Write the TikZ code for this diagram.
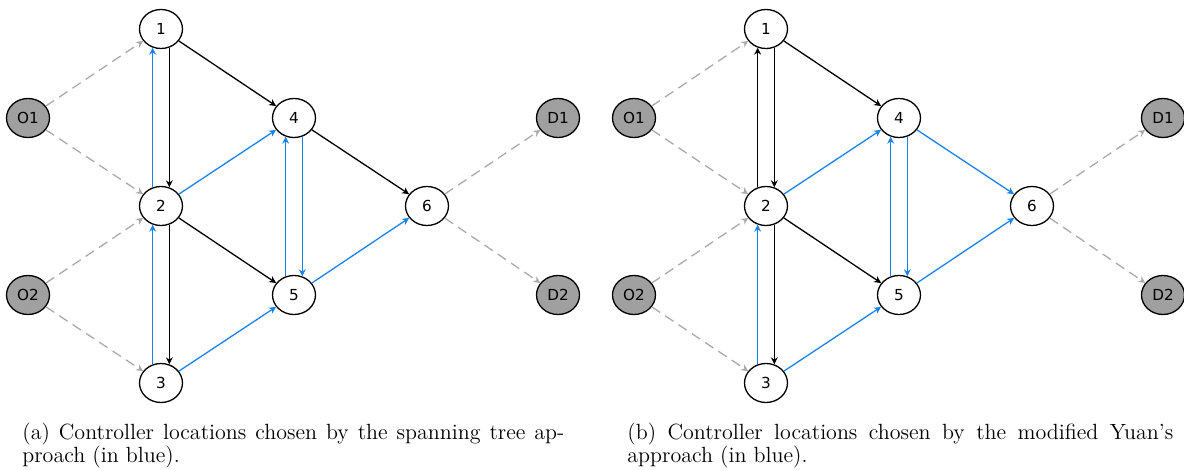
\documentclass[tikz,border=0pt]{standalone}
\usepackage{fontspec}
\newfontfamily\nodefont{DejaVu Sans}
\usetikzlibrary{arrows.meta,shapes.geometric}
\definecolor{cblue}{RGB}{25,130,235}
\definecolor{cgray}{RGB}{170,170,170}
\definecolor{nfill}{RGB}{160,160,160}
\tikzset{
  vtx/.style={ellipse, draw=black, line width=0.65pt, fill=white,
    minimum width=21.5pt, minimum height=19.5pt, inner sep=0pt,
    font=\nodefont\fontsize{7.6}{8}\selectfont},
  termnode/.style={vtx, fill=nfill},
  arrtip/.style={-{Stealth[length=3.5pt,width=3.4pt]}},
  blk/.style={arrtip, draw=black, line width=0.65pt},
  blu/.style={arrtip, draw=cblue, line width=0.65pt},
  dsh/.style={arrtip, draw=cgray, line width=0.65pt, dash pattern=on 5pt off 3pt},
  captxt/.style={anchor=base west, inner sep=0pt, font=\fontsize{11}{13}\selectfont},
}
\begin{document}
\begin{tikzpicture}[x=0.5pt,y=-0.5pt]
\useasboundingbox (0,0) rectangle (1184,470);
% ---------- panel (a) ----------
\node[termnode] (aO1) at (28,118) {O1};
\node[termnode] (aO2) at (28,295) {O2};
\node[vtx] (a1) at (161,29) {1};
\node[vtx] (a2) at (161,206) {2};
\node[vtx] (a3) at (161,383) {3};
\node[vtx] (a4) at (294,118) {4};
\node[vtx] (a5) at (294,295) {5};
\node[vtx] (a6) at (427,206) {6};
\node[termnode] (aD1) at (558,118) {D1};
\node[termnode] (aD2) at (558,295) {D2};
\draw[dsh] (aO1) -- (a1);
\draw[dsh] (aO1) -- (a2);
\draw[dsh] (aO2) -- (a2);
\draw[dsh] (aO2) -- (a3);
\draw[dsh] (a6) -- (aD1);
\draw[dsh] (a6) -- (aD2);
\draw[blk] (a1.294) -- (a2.66);
\draw[blu] (a2.114) -- (a1.246);
\draw[blk] (a2.294) -- (a3.66);
\draw[blu] (a3.114) -- (a2.246);
\draw[blu] (a5.114) -- (a4.246);
\draw[blu] (a4.294) -- (a5.66);
\draw[blk] (a1) -- (a4);
\draw[blu] (a2) -- (a4);
\draw[blk] (a2) -- (a5);
\draw[blu] (a3) -- (a5);
\draw[blk] (a4) -- (a6);
\draw[blu] (a5) -- (a6);
% ---------- panel (b) ----------
\node[termnode] (bO1) at (634,118) {O1};
\node[termnode] (bO2) at (634,295) {O2};
\node[vtx] (b1) at (766,29) {1};
\node[vtx] (b2) at (766,206) {2};
\node[vtx] (b3) at (766,383) {3};
\node[vtx] (b4) at (899,118) {4};
\node[vtx] (b5) at (899,295) {5};
\node[vtx] (b6) at (1032,206) {6};
\node[termnode] (bD1) at (1163,118) {D1};
\node[termnode] (bD2) at (1163,295) {D2};
\draw[dsh] (bO1) -- (b1);
\draw[dsh] (bO1) -- (b2);
\draw[dsh] (bO2) -- (b2);
\draw[dsh] (bO2) -- (b3);
\draw[dsh] (b6) -- (bD1);
\draw[dsh] (b6) -- (bD2);
\draw[blk] (b1.294) -- (b2.66);
\draw[blk] (b2.114) -- (b1.246);
\draw[blk] (b2.294) -- (b3.66);
\draw[blu] (b3.114) -- (b2.246);
\draw[blu] (b5.114) -- (b4.246);
\draw[blu] (b4.294) -- (b5.66);
\draw[blk] (b1) -- (b4);
\draw[blu] (b2) -- (b4);
\draw[blk] (b2) -- (b5);
\draw[blu] (b3) -- (b5);
\draw[blu] (b4) -- (b6);
\draw[blu] (b5) -- (b6);
% ---------- captions ----------
\node[captxt] (capa1) at (22,439) {\makebox[271pt][s]{(a) Controller locations chosen by the spanning tree ap-}};
\node[captxt] (capa2) at (22,462) {proach (in blue).};
\node[captxt] (capb1) at (627,439) {\makebox[273pt][s]{(b) Controller locations chosen by the modified Yuan's}};
\node[captxt] (capb2) at (627,462) {approach (in blue).};
\end{tikzpicture}
\end{document}
